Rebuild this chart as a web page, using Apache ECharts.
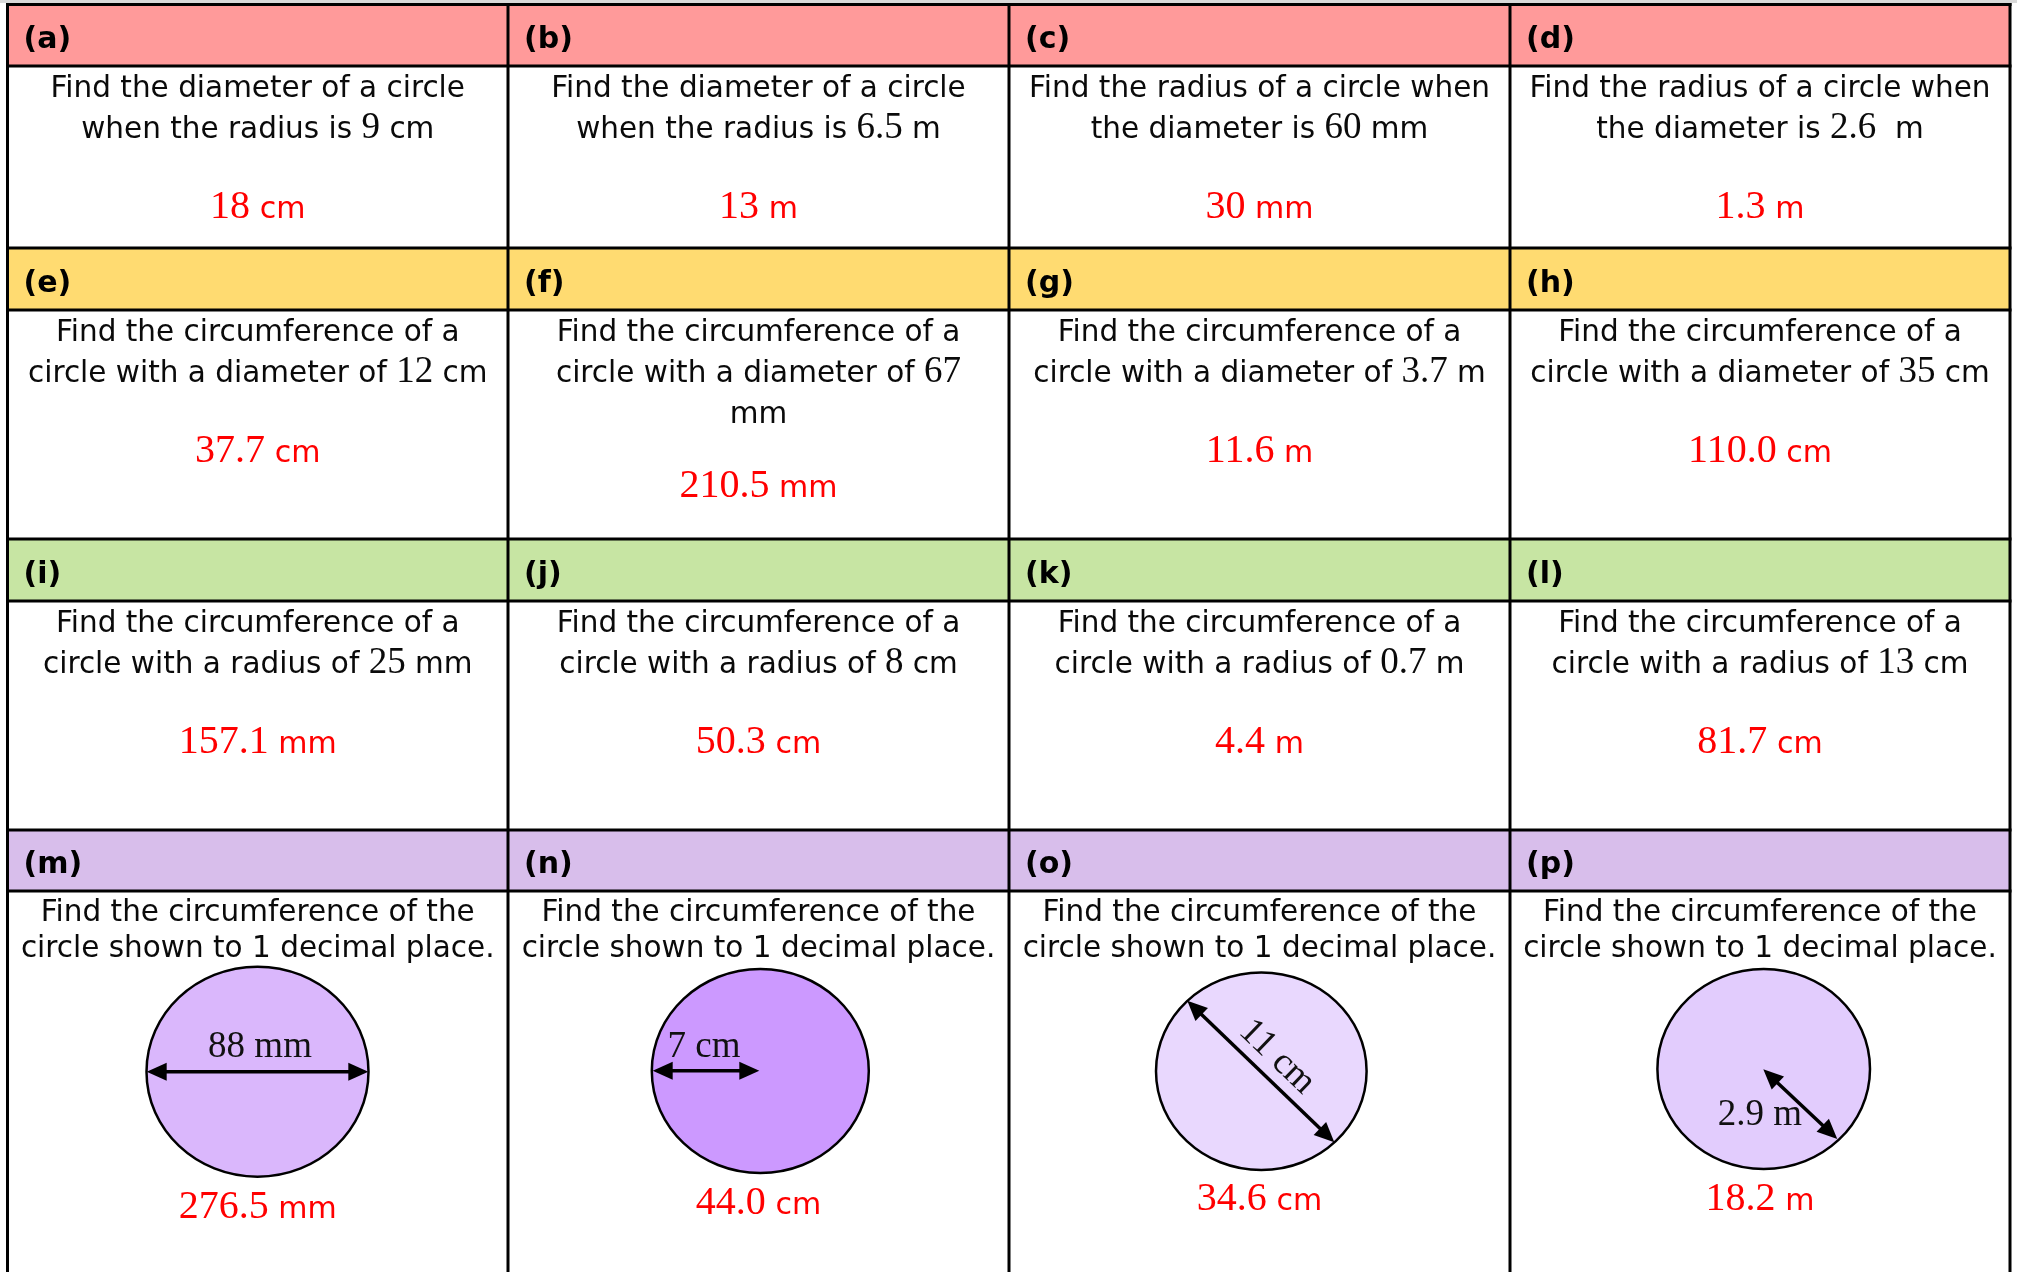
<!DOCTYPE html>
<html>
<head>
<meta charset="utf-8">
<script src="https://cdn.jsdelivr.net/npm/echarts@6/dist/echarts.min.js"></script>
<style>
html,body{margin:0;padding:0;background:#ffffff;}
#chart{width:2017px;height:1272px;}
</style>
</head>
<body>
<div id="chart"></div>
<script>
// ---------------- DATA ----------------
const partLabels = ['(a)','(b)','(c)','(d)','(e)','(f)','(g)','(h)','(i)','(j)','(k)','(l)','(m)','(n)','(o)','(p)'];
const questionLines = [
  ['Find the diameter of a circle', 'when the radius is {v} {u}'],
  ['Find the diameter of a circle', 'when the radius is {v} {u}'],
  ['Find the radius of a circle when', 'the diameter is {v} {u}'],
  ['Find the radius of a circle when', 'the diameter is {v}  {u}'],
  ['Find the circumference of a', 'circle with a diameter of {v} {u}'],
  ['Find the circumference of a', 'circle with a diameter of {v}', '{u}'],
  ['Find the circumference of a', 'circle with a diameter of {v} {u}'],
  ['Find the circumference of a', 'circle with a diameter of {v} {u}'],
  ['Find the circumference of a', 'circle with a radius of {v} {u}'],
  ['Find the circumference of a', 'circle with a radius of {v} {u}'],
  ['Find the circumference of a', 'circle with a radius of {v} {u}'],
  ['Find the circumference of a', 'circle with a radius of {v} {u}'],
  ['Find the circumference of the', 'circle shown to 1 decimal place.'],
  ['Find the circumference of the', 'circle shown to 1 decimal place.'],
  ['Find the circumference of the', 'circle shown to 1 decimal place.'],
  ['Find the circumference of the', 'circle shown to 1 decimal place.']
];
const givenValues = ['9','6.5','60','2.6','12','67','3.7','35','25','8','0.7','13','88','7','11','2.9'];
const units = ['cm','m','mm','m','cm','mm','m','cm','mm','cm','m','cm','mm','cm','cm','m'];
const answerValues = ['18','13','30','1.3','37.7','210.5','11.6','110.0','157.1','50.3','4.4','81.7','276.5','44.0','34.6','18.2'];
const figureKinds = ['diameter','radius','diameter','radius'];

// ---------------- LAYOUT / STYLE ----------------
const W = 2017, H = 1272;
const colEdges = [7.5, 508, 1009, 1510, 2010];
const rowEdges = [4.5, 66, 248, 310, 539, 601, 830, 891, 1300];
const rowColors = ['#FF9A9A', '#FFDB71', '#C7E5A3', '#D8BEEB'];
const SANS = '"DejaVu Sans", Verdana, sans-serif';
const SERIF = '"Liberation Serif", "DejaVu Serif", serif';
const K_SANS = 0.346, K_SERIF = 0.3375;   // canvas 'middle' -> baseline offsets (em)
const Q_SIZE = 29.5, QNUM_SIZE = 37, ANUM_SIZE = 40, AUNIT_SIZE = 30, FIG_SIZE = 37;
const rowAnswerY4 = [1207.5, 1203.5, 1199.5, 1199.5];
const figures = [
  {cx: 257.5, cy: 1071.7, rx: 111, ry: 105, fill: '#DAB7FC',
   a0: [146.7, 1071.7], a1: [368.3, 1071.7], lx: 260, ly: 1047, rot: 0},
  {cx: 760.3, cy: 1071, rx: 108.5, ry: 102, fill: '#CC99FF',
   a0: [652.7, 1070.7], a1: [759.3, 1070.7], lx: 704, ly: 1047, rot: 0},
  {cx: 1261.3, cy: 1071.2, rx: 105.3, ry: 98.8, fill: '#E9D8FE',
   a0: [1187.3, 1000.7], a1: [1334.3, 1142.3], lx: 1277, ly: 1057, rot: -43.8},
  {cx: 1763.7, cy: 1069, rx: 106.3, ry: 100, fill: '#E2CCFD',
   a0: [1763.3, 1069.3], a1: [1837.3, 1139], lx: 1760, ly: 1115, rot: 0}
];

const measureCtx = document.createElement('canvas').getContext('2d');
function textWidth(str, family, size) {
  measureCtx.font = size + 'px ' + family;
  return measureCtx.measureText(str).width;
}

// segments: [{text, serif:boolean, size}] placed on a common baseline, centred on cx
function segmentEls(cx, baseline, segs, fill) {
  const widths = segs.map(s => textWidth(s.text, s.serif ? SERIF : SANS, s.size));
  const total = widths.reduce((a, b) => a + b, 0);
  let x = cx - total / 2;
  const els = [];
  segs.forEach((s, k) => {
    const k0 = s.serif ? K_SERIF : K_SANS;
    els.push({type: 'text', x: x, y: baseline - k0 * s.size,
      style: {text: s.text, fontFamily: s.serif ? SERIF : SANS, fontSize: s.size,
        fill: fill, align: 'left', verticalAlign: 'middle'}});
    x += widths[k];
  });
  return els;
}

function questionSegs(line, v, u) {
  const s = line.replace('{u}', u);
  const parts = s.split('{v}');
  const segs = [];
  if (parts[0]) segs.push({text: parts[0], serif: false, size: Q_SIZE});
  if (parts.length > 1) {
    segs.push({text: v, serif: true, size: QNUM_SIZE});
    if (parts[1]) segs.push({text: parts[1], serif: false, size: Q_SIZE});
  }
  return segs;
}

function arrowEls(P, p0, p1) {
  const q0 = P(p0[0], p0[1]), q1 = P(p1[0], p1[1]);
  const dx = q1[0] - q0[0], dy = q1[1] - q0[1];
  const L = Math.hypot(dx, dy), ux = dx / L, uy = dy / L, nx = -uy, ny = ux;
  const hl = 20, hw = 9;
  const els = [];
  els.push({type: 'line', shape: {x1: q0[0] + ux * hl * 0.7, y1: q0[1] + uy * hl * 0.7,
    x2: q1[0] - ux * hl * 0.7, y2: q1[1] - uy * hl * 0.7},
    style: {stroke: '#000', lineWidth: 3.5}});
  els.push({type: 'polygon', shape: {points: [
    [q0[0], q0[1]],
    [q0[0] + ux * hl + nx * hw, q0[1] + uy * hl + ny * hw],
    [q0[0] + ux * hl - nx * hw, q0[1] + uy * hl - ny * hw]]},
    style: {fill: '#000'}});
  els.push({type: 'polygon', shape: {points: [
    [q1[0], q1[1]],
    [q1[0] - ux * hl + nx * hw, q1[1] - uy * hl + ny * hw],
    [q1[0] - ux * hl - nx * hw, q1[1] - uy * hl - ny * hw]]},
    style: {fill: '#000'}});
  return els;
}

function renderCell(params, api) {
  const i = params.dataIndex;
  const col = api.value(0), row = api.value(1);
  const P = (x, y) => api.coord([x, y]);
  const x0 = colEdges[col], x1 = colEdges[col + 1];
  const hTop = rowEdges[row * 2], hBot = rowEdges[row * 2 + 1], bBot = rowEdges[row * 2 + 2];
  const tl = P(x0, hTop), hb = P(x1, hBot), bb = P(x1, bBot);
  const cx = (tl[0] + hb[0]) / 2;
  const children = [];
  children.push({type: 'rect', shape: {x: tl[0], y: tl[1], width: hb[0] - tl[0], height: hb[1] - tl[1]},
    style: {fill: rowColors[row]}});
  children.push({type: 'rect', shape: {x: tl[0], y: hb[1], width: bb[0] - tl[0], height: bb[1] - hb[1]},
    style: {fill: '#FFFFFF'}});
  children.push({type: 'text', x: tl[0] + 16, y: (tl[1] + hb[1]) / 2 + 5,
    style: {text: partLabels[i], fontFamily: SANS, fontWeight: 'bold', fontSize: 30,
      fill: '#000', align: 'left', verticalAlign: 'middle'}});
  const lines = questionLines[i];
  const first = row === 3 ? 22.5 : 23.5, gap = row === 3 ? 36 : 41;
  lines.forEach((ln, k) => {
    const yc = hb[1] + first + gap * k;
    segmentEls(cx, yc + K_SANS * Q_SIZE, questionSegs(ln, givenValues[i], units[i]), '#0A0A0A')
      .forEach(e => children.push(e));
  });
  let ay;
  if (row === 3) ay = P(0, rowAnswerY4[col])[1];
  else ay = hb[1] + (lines.length === 3 ? 176.5 : 141.5);
  segmentEls(cx, ay + K_SERIF * ANUM_SIZE, [
    {text: answerValues[i], serif: true, size: ANUM_SIZE},
    {text: ' ' + units[i], serif: false, size: AUNIT_SIZE}
  ], '#FF0000').forEach(e => children.push(e));
  if (row === 3) {
    const f = figures[col];
    const c = P(f.cx, f.cy);
    children.push({type: 'ellipse', shape: {cx: c[0], cy: c[1], rx: f.rx, ry: f.ry},
      style: {fill: f.fill, stroke: '#000', lineWidth: 2.5}});
    arrowEls(P, f.a0, f.a1).forEach(e => children.push(e));
    const lp = P(f.lx, f.ly);
    children.push({type: 'text', x: lp[0], y: lp[1], rotation: f.rot * Math.PI / 180,
      style: {text: givenValues[i] + ' ' + units[i], fontFamily: SERIF, fontSize: FIG_SIZE,
        fill: '#111', align: 'center', verticalAlign: 'middle'}});
  }
  return {type: 'group', children: children};
}

function renderBorders(params, api) {
  const P = (x, y) => api.coord([x, y]);
  const children = [];
  const top = P(0, 3)[1], bottom = P(0, H)[1] + 20;
  children.push({type: 'rect', shape: {x: 0, y: 0, width: P(W, 0)[0], height: top},
    style: {fill: '#D9D9D9'}});
  colEdges.forEach(x => {
    const px = P(x, 0)[0];
    children.push({type: 'line', shape: {x1: px, y1: top, x2: px, y2: bottom},
      style: {stroke: '#000', lineWidth: 3}});
  });
  rowEdges.slice(0, -1).forEach(y => {
    const py = P(0, y)[1];
    children.push({type: 'line', shape: {x1: P(colEdges[0], 0)[0] - 1.5, y1: py,
      x2: P(colEdges[4], 0)[0] + 1.5, y2: py},
      style: {stroke: '#000', lineWidth: 3}});
  });
  return {type: 'group', children: children};
}

const chart = echarts.init(document.getElementById('chart'), null, {renderer: 'canvas'});
chart.setOption({
  animation: false,
  backgroundColor: '#FFFFFF',
  grid: {left: 0, right: 0, top: 0, bottom: 0},
  xAxis: {type: 'value', min: 0, max: W, show: false},
  yAxis: {type: 'value', min: 0, max: H, inverse: true, show: false},
  series: [
    {type: 'custom', coordinateSystem: 'cartesian2d', clip: false, silent: true, z: 1,
     data: partLabels.map((_, i) => [i % 4, Math.floor(i / 4)]),
     encode: {x: 0, y: 1},
     renderItem: renderCell},
    {type: 'custom', coordinateSystem: 'cartesian2d', clip: false, silent: true, z: 5,
     data: [[0, 0]], encode: {x: 0, y: 1},
     renderItem: renderBorders}
  ]
});
</script>
</body>
</html>
